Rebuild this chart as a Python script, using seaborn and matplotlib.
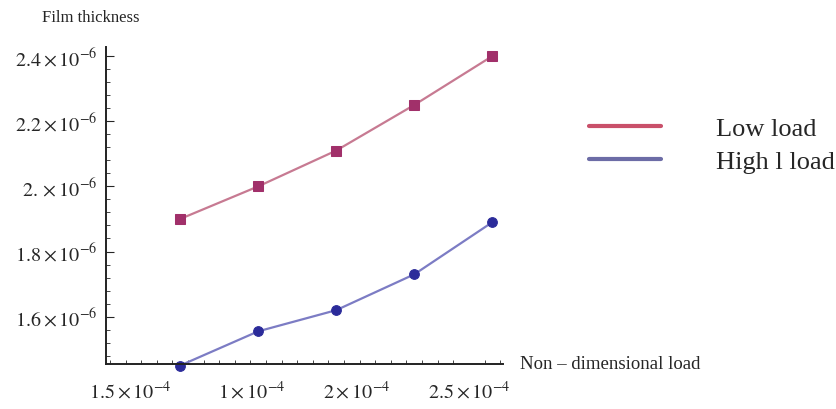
import matplotlib
matplotlib.use("Agg")
import matplotlib.pyplot as plt
import pandas as pd
import seaborn as sns
from matplotlib.lines import Line2D
from matplotlib.ticker import MultipleLocator

# load positions (axis units) and film thickness (x 10^-6)
load = [0.75, 1.25, 1.75, 2.25, 2.75]
low_load = [1.90, 2.00, 2.11, 2.25, 2.40]
high_load = [1.45, 1.555, 1.62, 1.73, 1.89]

x_ticks = [0.43, 1.21, 1.88, 2.60]
x_labels = [r"$1.5\times10^{-4}$", r"$1\times10^{-4}$", r"$2\times10^{-4}$", r"$2.5\times10^{-4}$"]
y_ticks = [1.6, 1.8, 2.0, 2.2, 2.4]
y_labels = [r"$1.6\times10^{-6}$", r"$1.8\times10^{-6}$", r"$2.\times10^{-6}$",
            r"$2.2\times10^{-6}$", r"$2.4\times10^{-6}$"]

df = pd.DataFrame({"load": load, "low": low_load, "high": high_load})

sns.set_style("ticks")
plt.rcParams["font.family"] = ["Liberation Serif", "DejaVu Serif"]
plt.rcParams["mathtext.fontset"] = "stix"

fig = plt.figure(figsize=(8.36, 4.10), dpi=100)
ax = fig.add_axes([0.127, 0.110, 0.475, 0.773])

sns.lineplot(data=df, x="load", y="low", ax=ax, color="#c77a92", lw=1.6,
             marker="s", markersize=7, markerfacecolor="#a1306a",
             markeredgecolor="#a1306a", clip_on=False)
sns.lineplot(data=df, x="load", y="high", ax=ax, color="#7c7cc4", lw=1.6,
             marker="o", markersize=7, markerfacecolor="#2b2b9a",
             markeredgecolor="#2b2b9a", clip_on=False)

ax.set_xlim(0.276, 2.82)
ax.set_ylim(1.455, 2.428)
ax.set_xticks(x_ticks)
ax.set_xticklabels(x_labels, fontsize=14.5)
ax.set_yticks(y_ticks)
ax.set_yticklabels(y_labels, fontsize=14.5)
ax.xaxis.set_minor_locator(MultipleLocator(0.1))
ax.yaxis.set_minor_locator(MultipleLocator(0.04))
ax.tick_params(axis="x", which="major", direction="in", length=0, pad=12)
ax.tick_params(axis="x", which="minor", direction="in", length=3)
ax.tick_params(axis="y", which="major", direction="in", length=6, pad=6)
ax.tick_params(axis="y", which="minor", direction="in", length=3)
ax.set_xlabel("")
ax.set_ylabel("")
sns.despine(ax=ax)
for s in ["left", "bottom"]:
    ax.spines[s].set_linewidth(1.4)
    ax.spines[s].set_color("#222222")

fig.text(0.108, 0.955, "Film thickness", fontsize=12, ha="center", va="center")
fig.text(0.622, 0.112, "Non \u2013 dimensional load", fontsize=13.5, ha="left", va="center")

handles = [Line2D([], [], color="#c9506a", lw=3),
           Line2D([], [], color="#6c6ca6", lw=3)]
fig.legend(handles, ["Low load", "High l load"], loc="center left",
           bbox_to_anchor=(0.705, 0.644), frameon=False, fontsize=19,
           handlelength=2.7, handletextpad=2.1, labelspacing=0.36,
           borderpad=0, borderaxespad=0)

fig.savefig("out.png", dpi=100)
